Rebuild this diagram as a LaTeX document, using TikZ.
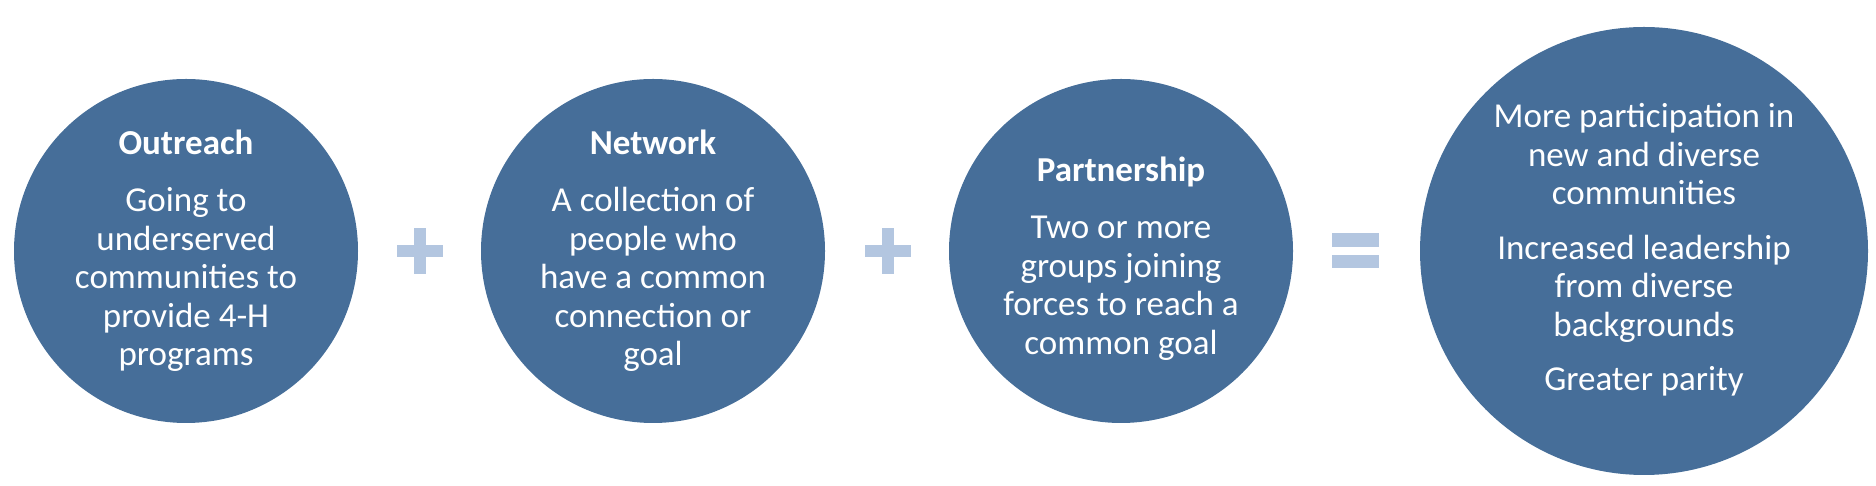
\documentclass[tikz,border=0pt]{standalone}
\usepackage{fontspec}
\setmainfont{Carlito}
\definecolor{cblue}{HTML}{466E99}
\definecolor{lblue}{HTML}{B3C6E0}
\begin{document}
\begin{tikzpicture}[x=1pt,y=1pt,
  circ/.style={circle,fill=cblue,inner sep=0pt},
  txt/.style={anchor=north,text=white,align=center,font=\fontsize{35}{38.5}\selectfont},
  sym/.style={fill=lblue}]
\useasboundingbox (0,0) rectangle (1876,486);
\node[circ,minimum size=344pt] (c1) at (186,235) {};
\node[circ,minimum size=344pt] (c2) at (653,235) {};
\node[circ,minimum size=344pt] (c3) at (1121,235) {};
\node[circ,minimum size=448pt] (c4) at (1644,235) {};
\node[txt] (t1) at (186,360) {\textbf{Outreach}\\[19pt]Going to\\underserved\\communities to\\provide 4-H\\programs};
\node[txt] (t2) at (653,360) {\textbf{Network}\\[19pt]A collection of\\people who\\have a common\\connection or\\goal};
\node[txt] (t3) at (1121,333) {\textbf{Partnership}\\[19pt]Two or more\\groups joining\\forces to reach a\\common goal};
\node[txt] (t4) at (1644,386) {More participation in\\new and diverse\\communities\\[16pt]Increased leadership\\from diverse\\backgrounds\\[16pt]Greater parity};
\fill[sym] (397,229) rectangle (443,241);
\fill[sym] (414,212) rectangle (426,258);
\fill[sym] (865,229) rectangle (911,241);
\fill[sym] (882,212) rectangle (894,258);
\fill[sym] (1332,239) rectangle (1379,253);
\fill[sym] (1332,218) rectangle (1379,231);
\end{tikzpicture}
\end{document}
